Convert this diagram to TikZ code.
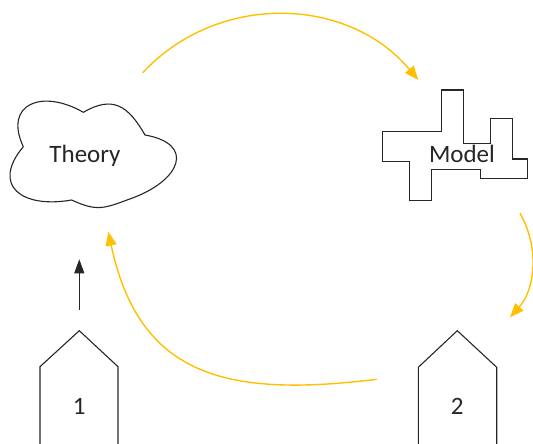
\documentclass[tikz,border=0pt]{standalone}
\usepackage{fontspec}
\setmainfont{Carlito}
\usepackage{xcolor}
\usetikzlibrary{arrows.meta,positioning}
\definecolor{gold}{HTML}{FFC000}

\begin{document}
\begin{tikzpicture}[x=1pt, y=1pt, every node/.style={font=\fontsize{25}{30}\selectfont, text=black!85, inner sep=0pt}, outline/.style={draw=black!85, line width=1.1pt}, cycle/.style={-{Triangle[length=14pt,width=11pt]}, draw=gold, line width=1.4pt}, lift/.style={-{Triangle[length=14pt,width=10pt]}, draw=black!85, line width=0.9pt}]
\useasboundingbox (0,0) rectangle (533,444);

% cloud
\draw[outline] (23.3,297.3) to[out=115, in=150, looseness=1.75] (83.3,331.7)
  to[out=30, in=120, looseness=1.33] (145,309)
  to[out=-10, in=20, looseness=2.05] (131.7,245.7)
  to[out=200, in=-25, looseness=1.23] (71.7,244)
  to[out=190, in=230, looseness=1.8] (23.3,297.3);

% puzzle block
\draw[outline] (441.7,354) -- (463.3,354) -- (463.3,300.7) -- (490.7,300.7) -- (490.7,325.7) -- (512.7,325.7) -- (512.7,285) -- (527.3,285) -- (527.3,265.7) -- (480.7,265.7) -- (480.7,274.7) -- (431.7,274.7) -- (431.7,243.3) -- (409.3,243.3) -- (409.3,282.3) -- (382.3,282.3) -- (382.3,312.3) -- (441.7,312.3) -- cycle;

% pentagons
\draw[outline] (40,-2) -- (40,77.3) -- (79.3,113.3) -- (118,77.3) -- (118,-2);
\draw[outline] (418.3,-2) -- (418.3,76.7) -- (457.3,113.3) -- (496.7,76.7) -- (496.7,-2);

\node[anchor=base] (theory) at (85,281.7) {Theory};
\node[anchor=base] (model) at (462,281.3) {Model};
\node[anchor=base] (one) at (79.3,29) {1};
\node[anchor=base] (two) at (457.3,29) {2};

\coordinate (theoryout) at (142.7,371.3);
\coordinate (modelin) at (418.3,364);
\coordinate (modelout) at (520,230.7);
\coordinate (twoin) at (510,126.7);
\coordinate (twoout) at (376.7,64.7);
\coordinate (theoryin) at (108.3,212.3);
\coordinate (oneout) at (79.3,134);
\coordinate (onein) at (79.3,184.7);

\draw[cycle] (theoryout) to[out=47, in=130, looseness=1.02] (modelin);
\draw[cycle] (modelout) to[out=-60, in=48, looseness=0.94] (twoin);
\draw[cycle] (twoout) to[out=187, in=282, looseness=1.25] (theoryin);
\draw[lift] (oneout) -- (onein);
\end{tikzpicture}
\end{document}
